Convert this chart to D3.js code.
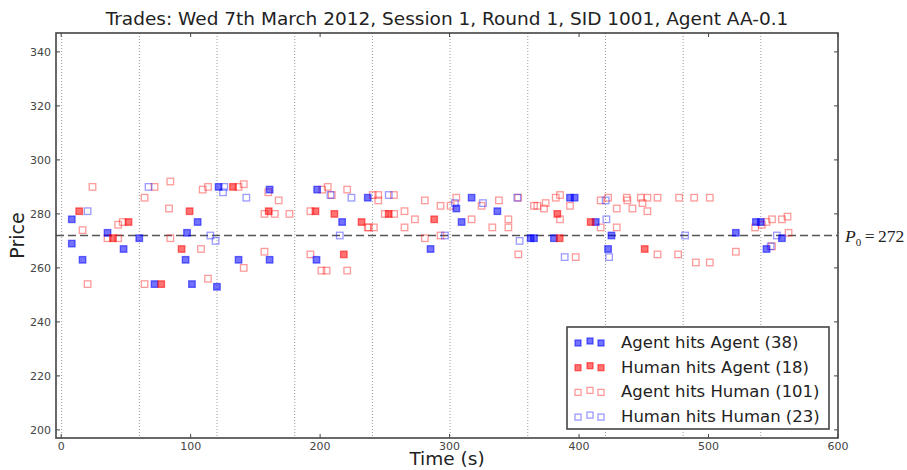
<!DOCTYPE html>
<html>
<head>
<meta charset="utf-8">
<script src="https://cdn.jsdelivr.net/npm/d3@7"></script>
<style>
  body { margin: 0; background: white; }
</style>
</head>
<body>
<div id="grafico"></div>
<script>
var width = 907,
    height = 470;

// trades [time (s), price]
var agentAgent = [[8.2,278],[35.8,273],[8.2,269],[48.2,267],[16.5,263],[60.3,271],[105.4,277],[97.2,273],
    [96.1,263],[72.1,254],[101,254],[120.3,253],[121.6,290],[137,263],[161,289],[161,263],[197.7,289],
    [236.8,286],[217,277],[197.2,263],[285.3,267],[305.2,282],[317,286],[336.9,281],[309.3,277],
    [362.6,271],[365.2,271],[380.6,271],[393,286],[396.6,286],[412.9,277],[425,272],[422.4,267],
    [521.1,273],[536.6,277],[540.4,277],[556.7,271],[544.8,267]];
var humanAgent = [[13.9,281],[40,271],[52,277],[99.2,281],[93,267],[77.3,254],[132.7,290],[160.3,281],
    [196.4,281],[211,280],[232,277],[218.3,265],[253,280],[288.1,278],[385,271],[383.2,280],[409,277],
    [450.7,267]];
var agentHuman = [[24.2,290],[16.5,274],[35.8,271],[44,271],[44,276],[47.5,277],[20.4,254],[64.4,286],
    [72.1,290],[84.3,292],[83.3,282],[84.3,271],[108,267],[64.4,254],[113.4,256],[109.3,289],[113.4,290],
    [137,290],[141,291],[141,260],[160,288],[168,285],[157,280],[165,280],[176.3,280],[157,266],
    [201.6,289],[205.9,290],[209,287],[220.9,289],[192.5,281],[236.8,275],[192.5,265],[201,259],[205,259],
    [220.9,259],[240.7,287],[244.9,287],[244.9,285],[257,287],[280.9,285],[293,283],[250,280],[257.2,280],
    [265.2,281],[273.2,278],[237.6,275],[241.5,275],[265.2,275],[280.9,271],[293,272],[300.8,283],
    [305.2,286],[324.7,283],[338.1,285],[353,286],[317,278],[333,275],[345.4,278],[345.4,275],[353.1,265],
    [397.4,264],[365.2,283],[367.8,283],[372.9,282],[374.2,284],[382,286],[385.3,287],[393,283],[385.3,278],
    [416.7,275],[416.7,285],[422.4,286],[429.1,282],[429.1,275],[436.8,286],[437.3,285],[441.2,282],
    [447.7,286],[452.8,286],[449,284],[452.8,281],[460.6,286],[477.3,286],[460.6,265],[476.5,265],
    [488.9,286],[501,286],[490.2,262],[501,262],[521.1,266],[536,275],[541.2,276],[544.8,277],[549,278],
    [556.7,278],[561,279],[561.8,273],[549,268]];
var humanHuman = [[20.4,281],[67.5,290],[115.2,272],[119.3,270],[126,290],[125,288],[143,286],[208,287],
    [224.2,286],[215.2,272],[253,287],[296.4,272],[304.1,284],[325.8,284],[352.3,286],[354.1,270],
    [388.9,264],[420.6,285],[421.1,278],[423.2,264],[481.9,272],[552.8,272],[548,268]];

var sessionMarks = [0, 60, 120, 180, 240, 300, 360, 420, 480, 540];
var xTicks = [0, 100, 200, 300, 400, 500, 600];
var yTicks = [200, 220, 240, 260, 280, 300, 320, 340];
var p0 = 272;

var legendNames = ["Agent hits Agent (38)", "Human hits Agent (18)", "Agent hits Human (101)", "Human hits Human (23)"];

var plotLeft = 56, plotRight = 838, plotTop = 33, plotBottom = 438;

var svg = d3.select("#grafico").append("svg")
    .attr("width", width)
    .attr("height", height)
    .style("font-family", "DejaVu Sans, sans-serif");

var x = d3.scaleLinear().domain([-4, 600]).range([plotLeft, plotRight]);
var y = d3.scaleLinear().domain([197, 347]).range([plotBottom, plotTop]);

// session boundaries
svg.append("g").selectAll("line")
    .data(sessionMarks)
    .enter()
    .append("line")
    .attr("x1", function(d) { return x(d) + 0.5 })
    .attr("x2", function(d) { return x(d) + 0.5 })
    .attr("y1", plotTop)
    .attr("y2", plotBottom)
    .attr("stroke", "#9a9a9a")
    .attr("stroke-width", 1)
    .attr("stroke-dasharray", "1,2");

// equilibrium price
svg.append("line")
    .attr("x1", plotLeft)
    .attr("x2", plotRight)
    .attr("y1", y(p0))
    .attr("y2", y(p0))
    .attr("stroke", "#555")
    .attr("stroke-width", 1.5)
    .attr("stroke-dasharray", "8,4");

var sq = 6.5;
function squares(data, fill, stroke, op) {
    svg.append("g").selectAll("rect")
        .data(data)
        .enter()
        .append("rect")
        .attr("x", function(d) { return x(d[0]) - sq / 2 })
        .attr("y", function(d) { return y(d[1]) - sq / 2 })
        .attr("width", sq)
        .attr("height", sq)
        .attr("fill", fill)
        .attr("fill-opacity", fill == "none" ? 0 : op)
        .attr("stroke", stroke)
        .attr("stroke-opacity", op)
        .attr("stroke-width", 1.3);
}
squares(agentHuman, "none", "#ff2020", 0.45);
squares(humanHuman, "none", "#2020ff", 0.45);
squares(agentAgent, "#0000ff", "#0000ff", 0.55);
squares(humanAgent, "#ff0000", "#ff0000", 0.55);

// frame
svg.append("rect")
    .attr("x", plotLeft)
    .attr("y", plotTop)
    .attr("width", plotRight - plotLeft)
    .attr("height", plotBottom - plotTop)
    .attr("fill", "none")
    .attr("stroke", "#444")
    .attr("stroke-width", 1.6);

// ticks (inward, both sides)
var tk = 4;
xTicks.forEach(function(t) {
    svg.append("line").attr("x1", x(t)).attr("x2", x(t)).attr("y1", plotBottom).attr("y2", plotBottom - tk)
        .attr("stroke", "#444");
    svg.append("line").attr("x1", x(t)).attr("x2", x(t)).attr("y1", plotTop).attr("y2", plotTop + tk)
        .attr("stroke", "#444");
    svg.append("text")
        .attr("x", x(t))
        .attr("y", plotBottom + 12)
        .attr("text-anchor", "middle")
        .style("font-size", "11px")
        .style("fill", "#444")
        .text(t);
});
yTicks.forEach(function(t) {
    svg.append("line").attr("x1", plotLeft).attr("x2", plotLeft + tk).attr("y1", y(t)).attr("y2", y(t))
        .attr("stroke", "#444");
    svg.append("line").attr("x1", plotRight).attr("x2", plotRight - tk).attr("y1", y(t)).attr("y2", y(t))
        .attr("stroke", "#444");
    svg.append("text")
        .attr("x", plotLeft - 5)
        .attr("y", y(t) + 4)
        .attr("text-anchor", "end")
        .style("font-size", "11px")
        .style("fill", "#444")
        .text(t);
});

// titles
svg.append("text")
    .attr("x", (plotLeft + plotRight) / 2)
    .attr("y", 25)
    .attr("text-anchor", "middle")
    .style("font-size", "18.5px")
    .style("fill", "#222")
    .text("Trades: Wed 7th March 2012, Session 1, Round 1, SID 1001, Agent AA-0.1");

svg.append("text")
    .attr("x", (plotLeft + plotRight) / 2)
    .attr("y", 465)
    .attr("text-anchor", "middle")
    .style("font-size", "18.5px")
    .style("fill", "#222")
    .text("Time (s)");

svg.append("text")
    .attr("transform", "translate(24," + (plotTop + plotBottom) / 2 + ") rotate(-90)")
    .attr("text-anchor", "middle")
    .style("font-size", "19px")
    .style("fill", "#222")
    .text("Price");

// P0 label
var pl = svg.append("text")
    .attr("x", 845)
    .attr("y", y(p0) + 6)
    .style("font-family", "Liberation Serif, serif")
    .style("font-size", "17.5px")
    .style("fill", "#222");
pl.append("tspan").style("font-style", "italic").text("P");
pl.append("tspan").attr("dy", 4).style("font-size", "11px").text("0");
pl.append("tspan").attr("dy", -4).text("\u2009=\u2009272");

// legend
var lg = svg.append("g").attr("transform", "translate(567,327)");
lg.append("rect")
    .attr("width", 262)
    .attr("height", 102)
    .attr("fill", "white")
    .attr("stroke", "#444")
    .attr("stroke-width", 1.6);

var legendStyle = [
    { fill: "#0000ff", stroke: "#0000ff", op: 0.55 },
    { fill: "#ff0000", stroke: "#ff0000", op: 0.55 },
    { fill: "none", stroke: "#ff2020", op: 0.45 },
    { fill: "none", stroke: "#2020ff", op: 0.45 }
];
var dots = [[11, 16], [23, 14], [34, 16]];
legendNames.forEach(function(name, i) {
    var row = lg.append("g").attr("transform", "translate(0," + (i * 24.7) + ")");
    dots.forEach(function(p) {
        row.append("rect")
            .attr("x", p[0] - 3)
            .attr("y", p[1] - 3)
            .attr("width", 6)
            .attr("height", 6)
            .attr("fill", legendStyle[i].fill)
            .attr("fill-opacity", legendStyle[i].fill == "none" ? 0 : legendStyle[i].op)
            .attr("stroke", legendStyle[i].stroke)
            .attr("stroke-opacity", legendStyle[i].op)
            .attr("stroke-width", 1.3);
    });
    row.append("text")
        .attr("x", 54)
        .attr("y", 21)
        .style("font-size", "16.5px")
        .style("fill", "#222")
        .text(name);
});
</script>
</body>
</html>
